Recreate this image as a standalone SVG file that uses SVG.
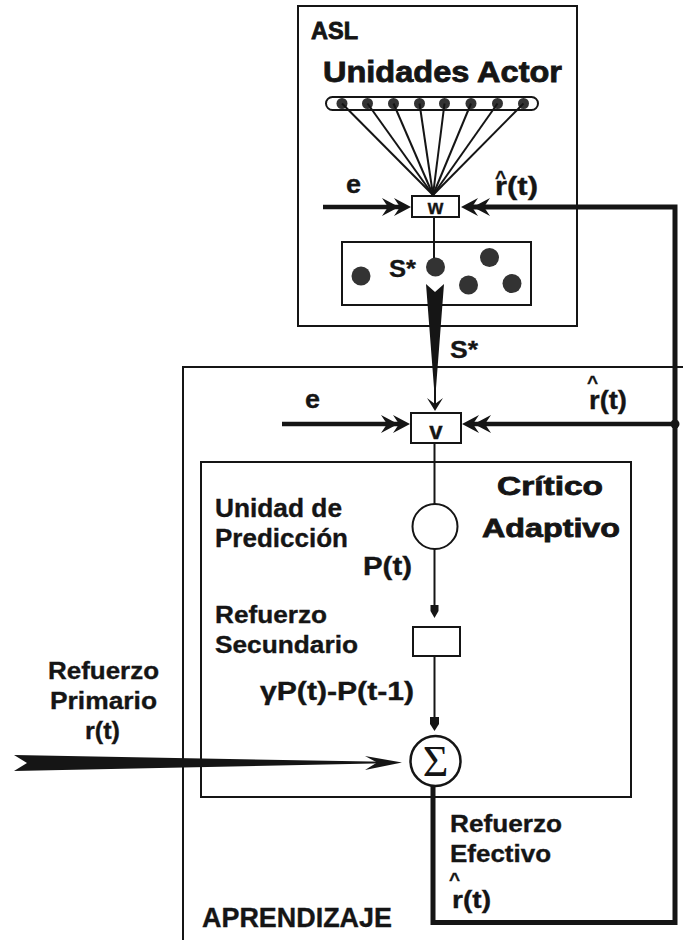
<svg xmlns="http://www.w3.org/2000/svg" width="683" height="940" viewBox="0 0 683 940">
<style>
.t{font-family:"Liberation Sans",Arial,sans-serif;font-weight:bold;fill:#151515;stroke:#151515;stroke-width:0.35}
.h{stroke-width:0.8}
.box{fill:none;stroke:#151515;stroke-width:2}
.thin{fill:none;stroke:#151515;stroke-width:2}
.thick{fill:none;stroke:#151515;stroke-width:4.5}
.loop{fill:none;stroke:#151515;stroke-width:5;stroke-linejoin:miter}
.dot{fill:#333}
.blk{fill:#151515}
</style>
<defs>
<path id="dbl" d="M0,0 L-17,-9 L-11,0 L-17,9 Z M-12,0 L-29,-9 L-23,0 L-29,9 Z"/>
</defs>
<rect width="683" height="940" fill="#fff"/>

<g id="asl">
<rect class="box" x="298" y="6" width="279" height="320"/>
<text class="t h" x="311" y="39" font-size="23" textLength="47" lengthAdjust="spacingAndGlyphs">ASL</text>
</g>

<g id="actor-units">
<text class="t h" x="323" y="82" font-size="29" textLength="239" lengthAdjust="spacingAndGlyphs">Unidades Actor</text>
<rect class="box" x="326" y="97" width="212" height="13" rx="6.5"/>
<circle class="dot" cx="342" cy="103.5" r="5.5"/>
<circle class="dot" cx="367.5" cy="103.5" r="5.5"/>
<circle class="dot" cx="393.5" cy="103.5" r="5.5"/>
<circle class="dot" cx="419.5" cy="103.5" r="5.5"/>
<circle class="dot" cx="444.5" cy="103.5" r="5.5"/>
<circle class="dot" cx="471" cy="103.5" r="5.5"/>
<circle class="dot" cx="497.5" cy="103.5" r="5.5"/>
<circle class="dot" cx="523.5" cy="103.5" r="5.5"/>
</g>

<g id="w-box">
<rect class="box" x="412" y="196" width="47" height="21" fill="#fff"/>
<text class="t" x="435.5" y="214" font-size="20" text-anchor="middle">w</text>
</g>

<g id="s-box">
<rect class="box" x="342" y="242" width="189" height="63"/>
<circle class="dot" cx="361" cy="276" r="9.5"/>
<circle class="dot" cx="435.5" cy="267" r="9.5"/>
<circle class="dot" cx="489.5" cy="257.5" r="9.5"/>
<circle class="dot" cx="468.5" cy="285" r="9.5"/>
<circle class="dot" cx="512" cy="283.5" r="9.5"/>
<text class="t" x="389" y="277" font-size="24" textLength="27" lengthAdjust="spacingAndGlyphs">S*</text>
</g>

<g id="aprendizaje">
<path class="box" d="M183,940 V367 H683"/>
<text class="t" x="202" y="927" font-size="27" textLength="190" lengthAdjust="spacingAndGlyphs">APRENDIZAJE</text>
</g>

<g id="v-box">
<rect class="box" x="411" y="413" width="50" height="30" fill="#fff"/>
<text class="t" x="436" y="439" font-size="24" text-anchor="middle">v</text>
</g>

<g id="critico">
<rect class="box" x="201" y="462" width="430" height="335" stroke-width="2.5"/>
<text class="t h" x="497" y="495" font-size="26" textLength="106" lengthAdjust="spacingAndGlyphs">Crítico</text>
<text class="t h" x="482" y="537" font-size="26" textLength="138" lengthAdjust="spacingAndGlyphs">Adaptivo</text>
</g>

<g id="prediction-unit">
<circle class="box" cx="435" cy="526.5" r="22.5" fill="#fff"/>
<text class="t" x="215" y="517" font-size="25" textLength="127" lengthAdjust="spacingAndGlyphs">Unidad de</text>
<text class="t" x="215" y="547" font-size="25" textLength="133" lengthAdjust="spacingAndGlyphs">Predicción</text>
</g>

<g id="secondary">
<rect class="box" x="413" y="627" width="47" height="29" fill="#fff"/>
<text class="t" x="215" y="623" font-size="24" textLength="112" lengthAdjust="spacingAndGlyphs">Refuerzo</text>
<text class="t" x="215" y="653" font-size="24" textLength="143" lengthAdjust="spacingAndGlyphs">Secundario</text>
</g>

<g id="sigma">
<circle cx="435.5" cy="761" r="25" fill="#fff" stroke="#151515" stroke-width="2.5"/>
<text x="435.5" y="776" font-family="'Liberation Serif','Times New Roman',serif" font-size="44" text-anchor="middle" fill="#151515">Σ</text>
</g>

<g id="primary">
<text class="t" x="48" y="679" font-size="24" textLength="111" lengthAdjust="spacingAndGlyphs">Refuerzo</text>
<text class="t" x="50" y="709" font-size="24" textLength="107" lengthAdjust="spacingAndGlyphs">Primario</text>
<text class="t" x="85" y="739" font-size="24" textLength="35" lengthAdjust="spacingAndGlyphs">r(t)</text>
</g>

<g id="effective">
<text class="t" x="450" y="832" font-size="24" textLength="112" lengthAdjust="spacingAndGlyphs">Refuerzo</text>
<text class="t" x="450" y="862" font-size="24" textLength="101" lengthAdjust="spacingAndGlyphs">Efectivo</text>
<text class="t" font-size="24"><tspan x="449" y="886" font-size="19">^</tspan><tspan x="452" y="908" textLength="39" lengthAdjust="spacingAndGlyphs">r(t)</tspan></text>
</g>

<g id="connectors">
<g class="thin" stroke-width="1.6">
<line x1="342" y1="103.5" x2="433" y2="195"/>
<line x1="367.5" y1="103.5" x2="433" y2="195"/>
<line x1="393.5" y1="103.5" x2="433" y2="195"/>
<line x1="419.5" y1="103.5" x2="433" y2="195"/>
<line x1="444.5" y1="103.5" x2="433" y2="195"/>
<line x1="471" y1="103.5" x2="433" y2="195"/>
<line x1="497.5" y1="103.5" x2="433" y2="195"/>
<line x1="523.5" y1="103.5" x2="433" y2="195"/>
</g>
<line class="thin" x1="434" y1="217" x2="434" y2="258"/>
<line class="thick" x1="323" y1="207" x2="400" y2="207"/>
<use href="#dbl" class="blk" transform="translate(411,207)"/>
<text class="t" x="346" y="193" font-size="25" textLength="15" lengthAdjust="spacingAndGlyphs">e</text>
<path class="loop" d="M433,786 V922.5 H675 V207 H470"/>
<use href="#dbl" class="blk" transform="translate(461,207) scale(-1,1)"/>
<text class="t" font-size="25"><tspan x="495" y="184" font-size="19">^</tspan><tspan x="495" y="195" textLength="43" lengthAdjust="spacingAndGlyphs">r(t)</tspan></text>
<polygon class="blk" points="426,284 435,292 444,284 436,388 434,388"/>
<line class="thin" x1="435" y1="386" x2="435" y2="405" stroke-width="1.6"/>
<polygon class="blk" points="435,411 427,398 435,404 443,398"/>
<text class="t" x="450" y="358" font-size="24" textLength="28" lengthAdjust="spacingAndGlyphs">S*</text>
<line class="thick" x1="282" y1="424" x2="400" y2="424"/>
<use href="#dbl" class="blk" transform="translate(410,424)"/>
<text class="t" x="305" y="408" font-size="25" textLength="15" lengthAdjust="spacingAndGlyphs">e</text>
<line class="thick" x1="675" y1="424" x2="472" y2="424"/>
<use href="#dbl" class="blk" transform="translate(462,424) scale(-1,1)"/>
<circle class="blk" cx="675" cy="424" r="4.5"/>
<text class="t" font-size="25"><tspan x="587" y="389" font-size="19">^</tspan><tspan x="589" y="409" textLength="38" lengthAdjust="spacingAndGlyphs">r(t)</tspan></text>
<line class="thin" x1="434.5" y1="443" x2="434.5" y2="504"/>
<line class="thin" x1="434.5" y1="549" x2="434.5" y2="606"/>
<polygon class="blk" points="430.5,605 438.5,605 438.5,611 434.5,618 430.5,611"/>
<text class="t" x="363" y="575" font-size="26" textLength="49" lengthAdjust="spacingAndGlyphs">P(t)</text>
<line class="thin" x1="434.5" y1="656" x2="434.5" y2="718"/>
<polygon class="blk" points="430,717 439,717 439,724 434.5,731 430,724"/>
<text class="t" x="260" y="700" font-size="25" textLength="154" lengthAdjust="spacingAndGlyphs">γP(t)-P(t-1)</text>
<polygon class="blk" points="14,755 385,761.8 385,763.2 14,771 27,763"/>
<line class="thin" x1="380" y1="762.5" x2="390" y2="762.5" stroke-width="1.5"/>
<polygon class="blk" points="402,762.5 365,756 377,762.5 365,770"/>
</g>
</svg>
